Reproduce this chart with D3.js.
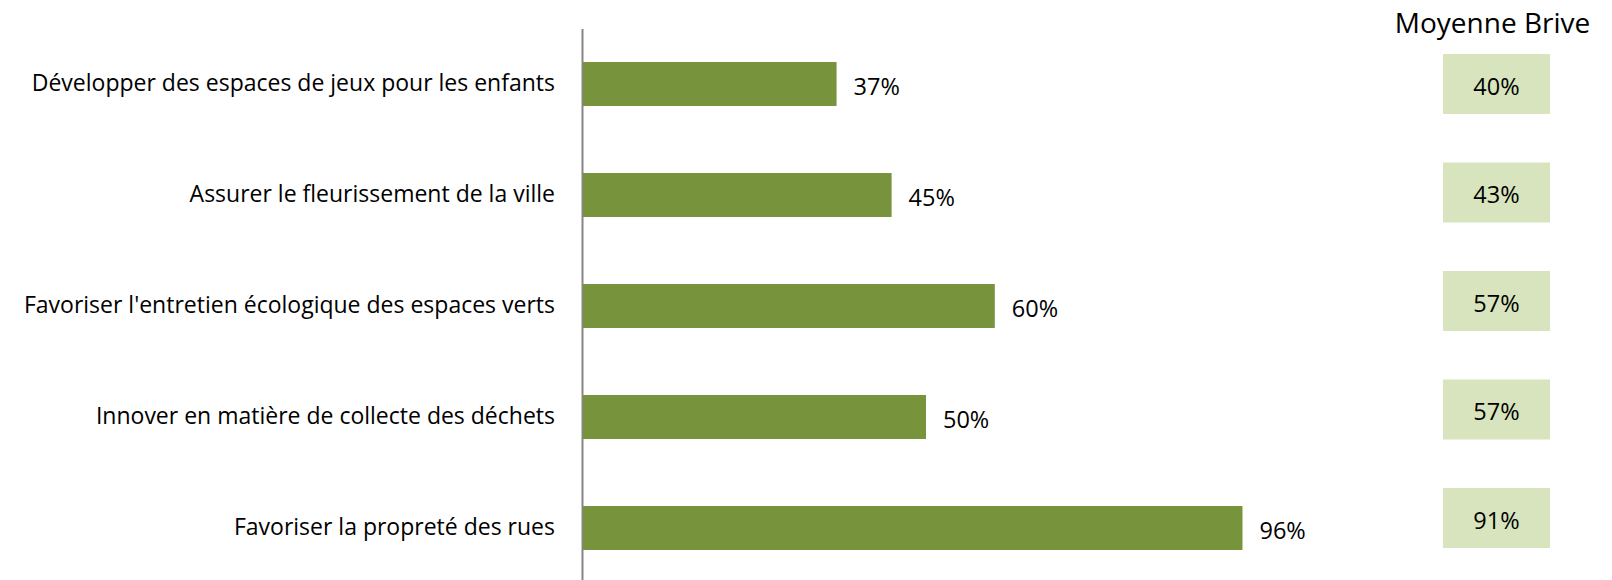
<!DOCTYPE html>
<html>
<head>
<meta charset="utf-8">
<script src="https://cdn.jsdelivr.net/npm/d3@7"></script>
<style>
  body { margin: 0; background: #fff; }
  svg text { font-family: "Open Sans", sans-serif; fill: #000; }
</style>
</head>
<body>
<div id="chart"></div>
<script>
// data
const categories = [
  "Développer des espaces de jeux pour les enfants",
  "Assurer le fleurissement de la ville",
  "Favoriser l'entretien écologique des espaces verts",
  "Innover en matière de collecte des déchets",
  "Favoriser la propreté des rues"
];
const values = [37, 45, 60, 50, 96];
const moyenneBrive = [40, 43, 57, 57, 91];
const tableTitle = "Moyenne Brive";

const width = 1612, height = 580;
const barColor = "#77933c", boxColor = "#d7e4bd", axisColor = "#868686";

const svg = d3.select("#chart").append("svg")
  .attr("width", width)
  .attr("height", height);

const x = d3.scaleLinear()
  .domain([0, 100])
  .range([582, 1270]);

const y = d3.scaleBand()
  .domain(categories)
  .range([28.5, 583.5])
  .paddingInner(0.604)
  .paddingOuter(0.302);

// axis with category labels
const yAxis = svg.append("g")
  .attr("transform", `translate(${x(0)},0)`)
  .call(d3.axisLeft(y).tickSize(0).tickSizeOuter(0).tickPadding(27));
yAxis.select(".domain")
  .attr("stroke", axisColor)
  .attr("stroke-width", 2);
yAxis.selectAll(".tick text")
  .style("font-family", "'Open Sans', sans-serif")
  .style("font-size", "23px")
  .attr("fill", "#000");

const rows = categories.map((c, i) => ({ cat: c, v: values[i], m: moyenneBrive[i] }));

svg.append("g").selectAll("rect")
  .data(rows)
  .enter().append("rect")
    .attr("x", x(0) + 1)
    .attr("y", d => y(d.cat))
    .attr("width", d => x(d.v) - x(0) - 1)
    .attr("height", y.bandwidth())
    .attr("fill", barColor);

svg.append("g").selectAll("text")
  .data(rows)
  .enter().append("text")
    .attr("x", d => x(d.v) + 17)
    .attr("y", d => y(d.cat) + y.bandwidth() / 2)
    .attr("dy", "0.48em")
    .style("font-size", "23.5px")
    .text(d => d.v + "%");

// table "Moyenne Brive"
const tx = 1496.5, boxW = 107, boxH = 60;
const ty = d3.scalePoint()
  .domain(categories)
  .range([84, 518]);

svg.append("text")
  .attr("x", tx - 4)
  .attr("y", 33)
  .attr("text-anchor", "middle")
  .style("font-size", "28px")
  .text(tableTitle);

const cells = svg.append("g").selectAll("g")
  .data(rows)
  .enter().append("g")
    .attr("transform", d => `translate(${tx},${ty(d.cat)})`);

cells.append("rect")
  .attr("x", -boxW / 2)
  .attr("y", -boxH / 2)
  .attr("width", boxW)
  .attr("height", boxH)
  .attr("fill", boxColor);

cells.append("text")
  .attr("text-anchor", "middle")
  .attr("dy", "0.45em")
  .style("font-size", "23.5px")
  .text(d => d.m + "%");
</script>
</body>
</html>
